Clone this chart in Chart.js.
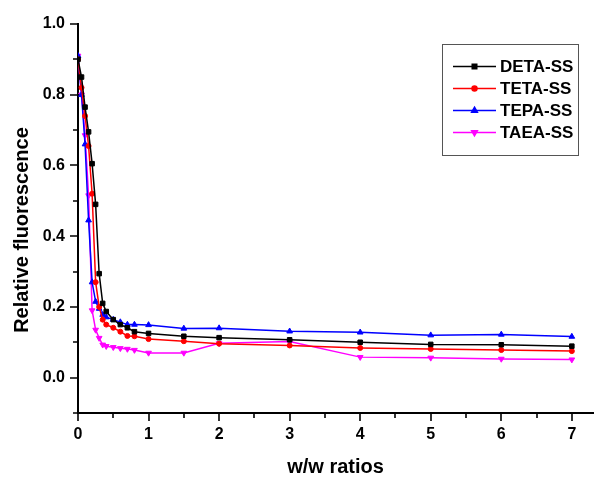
<!DOCTYPE html>
<html>
<head>
<meta charset="utf-8">
<script src="https://cdn.jsdelivr.net/npm/chart.js@4.4.0/dist/chart.umd.min.js"></script>
<style>
html,body{margin:0;padding:0;background:#fff;}
#c{display:block;}
</style>
</head>
<body>
<canvas id="c" width="598" height="477" style="width:598px;height:477px"></canvas>
<script>
const xRatios = [0, 0.05, 0.1, 0.15, 0.2, 0.25, 0.3, 0.35, 0.4, 0.5, 0.6, 0.7, 0.8, 1, 1.5, 2, 3, 4, 5, 6, 7];
const DETA = [0.90, 0.85, 0.765, 0.695, 0.605, 0.49, 0.294, 0.21, 0.187, 0.164, 0.150, 0.141, 0.130, 0.125, 0.117, 0.113, 0.107, 0.100, 0.094, 0.093, 0.089];
const TETA = [0.90, 0.82, 0.74, 0.655, 0.52, 0.27, 0.20, 0.164, 0.150, 0.141, 0.130, 0.118, 0.117, 0.109, 0.103, 0.096, 0.091, 0.084, 0.081, 0.078, 0.075];
const TEPA = [0.91, 0.80, 0.66, 0.445, 0.27, 0.215, 0.195, 0.178, 0.171, 0.164, 0.157, 0.150, 0.150, 0.149, 0.139, 0.140, 0.131, 0.128, 0.120, 0.122, 0.116];
const TAEA = [0.91, 0.80, 0.685, 0.515, 0.19, 0.135, 0.112, 0.093, 0.089, 0.086, 0.083, 0.081, 0.078, 0.070, 0.070, 0.097, 0.102, 0.058, 0.056, 0.053, 0.051];
const seriesNames = ['DETA-SS', 'TETA-SS', 'TEPA-SS', 'TAEA-SS'];
const xMajorTicks = [0, 1, 2, 3, 4, 5, 6, 7];
const yMajorTicks = [0.0, 0.2, 0.4, 0.6, 0.8, 1.0];
const xTitle = 'w/w ratios';
const yTitle = 'Relative fluorescence';

const FONT = "'Liberation Sans', Arial, sans-serif";
const toPts = arr => xRatios.map((x, i) => ({x: x, y: arr[i]}));
const near = (list, v) => list.some(t => Math.abs(t - v) < 1e-6);

function ds(label, arr, color, style, rot, r) {
  return {
    label: label, data: toPts(arr),
    borderColor: color, backgroundColor: color,
    pointBackgroundColor: color, pointBorderColor: color,
    borderWidth: 1.5, pointRadius: r, pointBorderWidth: 1,
    pointStyle: style, pointRotation: rot, tension: 0
  };
}

const tickPlugin = {
  id: 'ticksDraw',
  afterDraw(chart) {
    const c = chart.ctx, xs = chart.scales.x, ys = chart.scales.y;
    const yBase = ys.getPixelForValue(ys.min);
    const xBase = xs.getPixelForValue(xs.min);
    c.save();
    c.strokeStyle = '#000';
    c.lineWidth = 1.6;
    c.beginPath();
    for (let k = 0; k <= 14; k++) {
      const v = k * 0.5;
      const px = Math.round(xs.getPixelForValue(v));
      const len = (k % 2 === 0) ? 8 : 5;
      c.moveTo(px, yBase); c.lineTo(px, yBase + len);
    }
    for (let k = -1; k <= 10; k++) {
      const v = k * 0.1;
      const py = Math.round(ys.getPixelForValue(v));
      const len = (k % 2 === 0) ? 8 : 5;
      c.moveTo(xBase, py); c.lineTo(xBase - len, py);
    }
    c.stroke();
    c.fillStyle = '#000';
    c.font = "bold 20px " + FONT;
    c.textAlign = 'center';
    c.textBaseline = 'middle';
    c.translate(22, 230);
    c.rotate(-Math.PI / 2);
    c.fillText(yTitle, 0, 0);
    c.restore();
  }
};

const legendPlugin = {
  id: 'boxLegend',
  afterDraw(chart) {
    const c = chart.ctx;
    const L = 442, T = 44, R = 578, B = 155;
    c.save();
    c.strokeStyle = '#555';
    c.lineWidth = 1;
    c.strokeRect(L + 0.5, T + 0.5, R - L, B - T);
    c.font = "bold 17px " + FONT;
    c.textBaseline = 'middle';
    c.textAlign = 'left';
    chart.data.datasets.forEach((d, i) => {
      const y = 66 + i * 22;
      c.strokeStyle = d.borderColor;
      c.lineWidth = 1.5;
      c.beginPath(); c.moveTo(453, y + 0.5); c.lineTo(496, y + 0.5); c.stroke();
      c.fillStyle = d.borderColor;
      Chart.helpers.drawPoint(c, {pointStyle: d.pointStyle, rotation: d.pointRotation, radius: d.pointRadius, borderWidth: 1}, 474.5, y + 0.5);
      c.fillStyle = '#000';
      c.fillText(d.label, 500, y + 1);
    });
    c.restore();
  }
};

new Chart(document.getElementById('c'), {
  type: 'line',
  data: {
    datasets: [
      ds(seriesNames[0], DETA, '#000000', 'rect', 0, 3.2),
      ds(seriesNames[1], TETA, '#ff0000', 'circle', 0, 2.5),
      ds(seriesNames[2], TEPA, '#0000ff', 'triangle', 0, 3.3),
      ds(seriesNames[3], TAEA, '#ff00ff', 'triangle', 180, 3.3)
    ]
  },
  options: {
    responsive: false, animation: false,
    layout: {padding: {top: 24, left: 0, right: 0, bottom: 0}},
    plugins: {legend: {display: false}, tooltip: {enabled: false}},
    scales: {
      x: {
        type: 'linear', min: 0, max: 7.3,
        ticks: {
          stepSize: 0.5, autoSkip: false, maxRotation: 0, padding: 2, color: '#000', includeBounds: false,
          font: {family: FONT, size: 16, weight: 'bold'},
          callback: v => (near(xMajorTicks, v) ? String(Math.round(v)) : '')
        },
        grid: {display: false, drawTicks: true, tickLength: 10},
        border: {display: true, color: '#000', width: 2},
        title: {display: true, text: xTitle, color: '#000', font: {family: FONT, size: 20, weight: 'bold', lineHeight: 1}, padding: {top: 0, bottom: 0}},
        afterFit: s => { s.height = 64; }
      },
      y: {
        type: 'linear', min: -0.1, max: 1.0,
        ticks: {
          stepSize: 0.1, autoSkip: false, padding: 5, color: '#000',
          font: {family: FONT, size: 16, weight: 'bold'},
          callback: v => (near(yMajorTicks, v) ? v.toFixed(1) : '')
        },
        grid: {display: false, drawTicks: true, tickLength: 8},
        border: {display: true, color: '#000', width: 2},
        title: {display: false},
        afterFit: s => { s.width = 78; }
      }
    }
  },
  plugins: [tickPlugin, legendPlugin]
});
</script>
</body>
</html>
